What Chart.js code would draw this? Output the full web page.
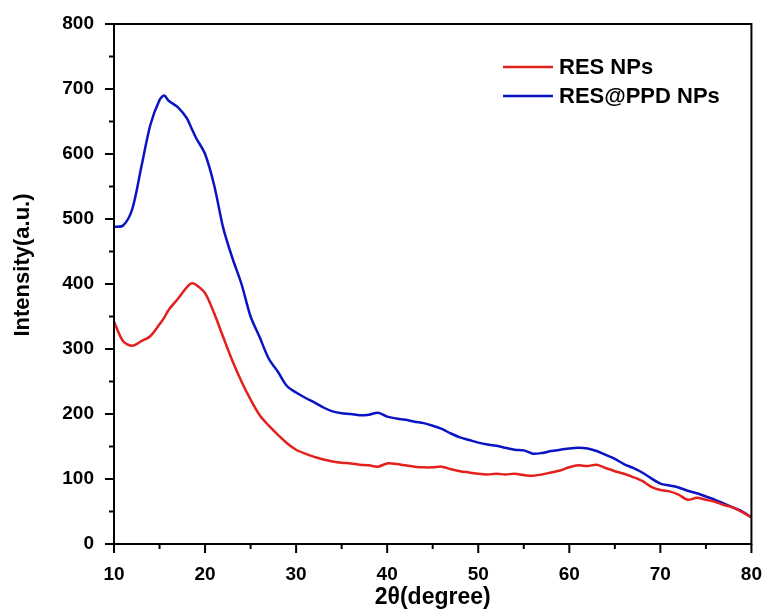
<!DOCTYPE html>
<html>
<head>
<meta charset="utf-8">
<script src="https://cdn.jsdelivr.net/npm/chart.js@4"></script>
<style>
  html, body { margin: 0; padding: 0; background: #fff; }
  #wrap { width: 773px; height: 609px; }
</style>
</head>
<body>
<div id="wrap"><canvas id="xrdChart" width="773" height="609"></canvas></div>
<script>
// 2theta positions (degree)
var twoTheta = [10,11,12,13,14,15,15.5,16,17,18,18.5,19,20,21,22,23,24,25,26,27,28,29,30,
  31,32,33,34,35,36,37,38,39,40,41,42,43,44,45,46,47,48,49,50,51,52,53,54,55,56,57,58,59,60,
  61,62,63,64,65,66,67,68,69,70,71,72,73,74,75,76,77,78,79,80];

var resNPs = [342,312,305,312,320,338,348,360,377,395,401,399,386,355,318,282,250,222,198,182,168,155,145,
  139,134,130,127,125,124,122,121,119,124,123,121,119,118,118,119,115,112,110,108,107,108,107,108,106,105,107,110,113,118,
  121,120,122,117,112,108,103,97,88,83,81,76,68,71,68,65,60,56,49,41];

var resPpdNPs = [488,490,515,580,645,683,690,682,672,655,640,625,600,552,486,440,400,350,318,285,265,243,233,
  225,218,210,204,201,200,198,199,202,196,193,191,188,186,182,177,170,164,160,156,153,151,148,145,144,139,140,143,145,147,
  148,147,143,137,131,123,117,110,101,93,90,87,82,78,73,68,62,56,50,41];

var seriesNames = ['RES NPs', 'RES@PPD NPs'];
var seriesColors = ['#e3201b', '#0b14c4'];

var yTicks = [0,100,200,300,400,500,600,700,800];
var xTicks = [10,20,30,40,50,60,70,80];

var fontFamily = '"Liberation Sans", Arial, sans-serif';

function toPoints(vals) {
  return twoTheta.map(function(t, i) { return { x: t, y: vals[i] }; });
}

// frame, minor ticks, y title and legend
var framePlugin = {
  id: 'frame',
  afterDraw: function(chart) {
    var ctx = chart.ctx;
    var a = chart.chartArea;
    var xs = chart.scales.x, ys = chart.scales.y;
    ctx.save();
    ctx.strokeStyle = '#000';
    ctx.lineWidth = 2;
    ctx.strokeRect(a.left, a.top, a.right - a.left, a.bottom - a.top);
    ctx.beginPath();
    for (var v = 10; v <= 80; v += 5) {
      var px = xs.getPixelForValue(v);
      var len = (v % 10 === 0) ? 9 : 5;
      ctx.moveTo(px, a.bottom);
      ctx.lineTo(px, a.bottom + len);
    }
    for (var w = 0; w <= 800; w += 50) {
      var py = ys.getPixelForValue(w);
      var len2 = (w % 100 === 0) ? 9 : 5;
      ctx.moveTo(a.left, py);
      ctx.lineTo(a.left - len2, py);
    }
    ctx.stroke();

    // y axis title
    ctx.fillStyle = '#000';
    ctx.font = 'bold 22px ' + fontFamily;
    ctx.textAlign = 'center';
    ctx.textBaseline = 'middle';
    ctx.translate(23, 265);
    ctx.rotate(-Math.PI / 2);
    ctx.fillText('Intensity(a.u.)', 0, 0);
    ctx.setTransform(1, 0, 0, 1, 0, 0);

    // legend
    ctx.font = 'bold 22px ' + fontFamily;
    ctx.textAlign = 'left';
    ctx.textBaseline = 'middle';
    for (var i = 0; i < seriesNames.length; i++) {
      var ly = 67 + i * 29;
      ctx.strokeStyle = seriesColors[i];
      ctx.lineWidth = 2.5;
      ctx.beginPath();
      ctx.moveTo(503, ly);
      ctx.lineTo(553, ly);
      ctx.stroke();
      ctx.fillText(seriesNames[i], 559, ly + 1);
    }
    ctx.restore();
  }
};

var ctx = document.getElementById('xrdChart').getContext('2d');
var myChart = new Chart(ctx, {
  type: 'line',
  data: {
    datasets: [{
      label: seriesNames[0],
      data: toPoints(resNPs),
      borderColor: seriesColors[0],
      borderWidth: 2.5,
      pointRadius: 0,
      tension: 0.3,
      fill: false
    }, {
      label: seriesNames[1],
      data: toPoints(resPpdNPs),
      borderColor: seriesColors[1],
      borderWidth: 2.5,
      pointRadius: 0,
      tension: 0.3,
      fill: false
    }]
  },
  options: {
    responsive: false,
    animation: false,
    layout: { padding: { top: 24, right: 16, left: 0, bottom: 0 } },
    plugins: {
      legend: { display: false },
      tooltip: { enabled: false }
    },
    scales: {
      x: {
        type: 'linear',
        min: 10,
        max: 80,
        afterBuildTicks: function(s) { s.ticks = xTicks.map(function(v) { return { value: v }; }); },
        afterFit: function(s) { s.height = 65; },
        grid: { display: false },
        border: { display: false },
        ticks: {
          color: '#000',
          padding: 11,
          maxRotation: 0,
          font: { family: fontFamily, size: 19, weight: 'bold' }
        },
        title: {
          display: true,
          text: '2θ(degree)',
          color: '#000',
          padding: { top: 0, bottom: 0 },
          font: { family: fontFamily, size: 23, weight: 'bold', lineHeight: 1.0 }
        }
      },
      y: {
        min: 0,
        max: 800,
        afterBuildTicks: function(s) { s.ticks = yTicks.map(function(v) { return { value: v }; }); },
        afterFit: function(s) { s.width = 114; },
        grid: { display: false },
        border: { display: false },
        ticks: {
          color: '#000',
          padding: 12,
          font: { family: fontFamily, size: 19, weight: 'bold' }
        }
      }
    }
  },
  plugins: [framePlugin]
});
</script>
</body>
</html>
